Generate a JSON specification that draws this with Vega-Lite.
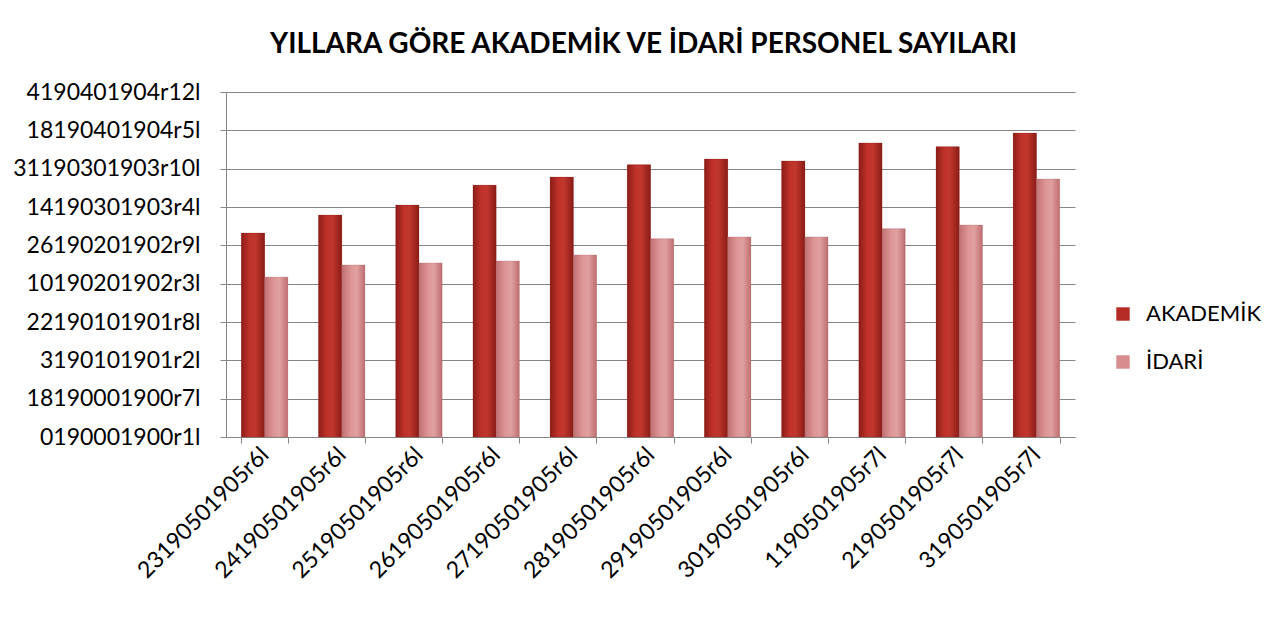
{
  "$schema": "https://vega.github.io/schema/vega-lite/v6.json",
  "autosize": {"type": "none"},
  "width": 849,
  "height": 345,
  "padding": {"left": 226, "top": 92, "right": 209, "bottom": 184},
  "background": "white",
  "title": {
    "text": "YILLARA GÖRE AKADEMİK VE İDARİ PERSONEL SAYILARI",
    "font": "Lato",
    "fontSize": 28,
    "fontWeight": "bold",
    "color": "#000000",
    "anchor": "middle",
    "offset": 22,
    "dx": -7
  },
  "data": {
    "values": [
      {"donem": "23190501905r6l", "seri": "AKADEMİK", "deger": 5.32},
      {"donem": "23190501905r6l", "seri": "İDARİ", "deger": 4.17},
      {"donem": "24190501905r6l", "seri": "AKADEMİK", "deger": 5.79},
      {"donem": "24190501905r6l", "seri": "İDARİ", "deger": 4.49},
      {"donem": "25190501905r6l", "seri": "AKADEMİK", "deger": 6.05},
      {"donem": "25190501905r6l", "seri": "İDARİ", "deger": 4.54},
      {"donem": "26190501905r6l", "seri": "AKADEMİK", "deger": 6.57},
      {"donem": "26190501905r6l", "seri": "İDARİ", "deger": 4.59},
      {"donem": "27190501905r6l", "seri": "AKADEMİK", "deger": 6.78},
      {"donem": "27190501905r6l", "seri": "İDARİ", "deger": 4.75},
      {"donem": "28190501905r6l", "seri": "AKADEMİK", "deger": 7.10},
      {"donem": "28190501905r6l", "seri": "İDARİ", "deger": 5.17},
      {"donem": "29190501905r6l", "seri": "AKADEMİK", "deger": 7.25},
      {"donem": "29190501905r6l", "seri": "İDARİ", "deger": 5.22},
      {"donem": "30190501905r6l", "seri": "AKADEMİK", "deger": 7.20},
      {"donem": "30190501905r6l", "seri": "İDARİ", "deger": 5.22},
      {"donem": "1190501905r7l", "seri": "AKADEMİK", "deger": 7.67},
      {"donem": "1190501905r7l", "seri": "İDARİ", "deger": 5.43},
      {"donem": "2190501905r7l", "seri": "AKADEMİK", "deger": 7.57},
      {"donem": "2190501905r7l", "seri": "İDARİ", "deger": 5.53},
      {"donem": "3190501905r7l", "seri": "AKADEMİK", "deger": 7.93},
      {"donem": "3190501905r7l", "seri": "İDARİ", "deger": 6.73}
    ]
  },
  "encoding": {
    "x": {
      "field": "donem",
      "type": "nominal",
      "sort": null,
      "scale": {"paddingInner": 0.4, "paddingOuter": 0.2},
      "axis": {
        "title": null,
        "labelAngle": -45,
        "labelAlign": "right",
        "labelBaseline": "middle",
        "labelFont": "Lato",
        "labelFontSize": 23,
        "labelColor": "#000000",
        "labelPadding": 8,
        "labelLimit": 400,
        "tickBand": "extent",
        "tickSize": 6,
        "tickColor": "#868686",
        "domainColor": "#868686",
        "grid": false
      }
    },
    "xOffset": {"field": "seri", "type": "nominal", "sort": ["AKADEMİK", "İDARİ"]},
    "y": {
      "field": "deger",
      "type": "quantitative",
      "scale": {"domain": [0, 9], "nice": false, "zero": true},
      "axis": {
        "title": null,
        "values": [0, 1, 2, 3, 4, 5, 6, 7, 8, 9],
        "labelExpr": "['0190001900r1l','18190001900r7l','3190101901r2l','22190101901r8l','10190201902r3l','26190201902r9l','14190301903r4l','31190301903r10l','18190401904r5l','4190401904r12l'][datum.value]",
        "labelFont": "Lato",
        "labelFontSize": 23,
        "labelColor": "#000000",
        "labelPadding": 20,
        "labelLimit": 400,
        "tickSize": 6,
        "tickColor": "#868686",
        "domainColor": "#868686",
        "grid": true,
        "gridColor": "#868686",
        "gridWidth": 1
      }
    }
  },
  "layer": [
    {
      "mark": {"type": "bar"},
      "encoding": {
        "color": {
          "field": "seri",
          "type": "nominal",
          "sort": ["AKADEMİK", "İDARİ"],
          "scale": {"domain": ["AKADEMİK", "İDARİ"], "range": ["#B52B25", "#D98C8E"]},
          "legend": {
            "title": null,
            "orient": "none",
            "legendX": 886,
            "legendY": 211,
            "symbolType": "square",
            "symbolSize": 180,
            "symbolStrokeWidth": 0,
            "labelFont": "Lato",
            "labelFontSize": 22,
            "labelColor": "#000000",
            "labelOffset": 12,
            "labelLimit": 300,
            "rowPadding": 26
          }
        }
      }
    },
    {
      "transform": [{"filter": "datum.seri === 'AKADEMİK'"}],
      "mark": {
        "type": "bar",
        "stroke": "#7a1a16",
        "strokeOpacity": 0.3,
        "strokeWidth": 0.8,
        "fill": {
          "gradient": "linear", "x1": 0, "y1": 0, "x2": 1, "y2": 0,
          "stops": [
            {"offset": 0, "color": "#8C1D18"},
            {"offset": 0.35, "color": "#BE3229"},
            {"offset": 0.6, "color": "#C0372D"},
            {"offset": 1, "color": "#8A1C17"}
          ]
        }
      }
    },
    {
      "transform": [{"filter": "datum.seri === 'İDARİ'"}],
      "mark": {
        "type": "bar",
        "stroke": "#9a5a5c",
        "strokeOpacity": 0.3,
        "strokeWidth": 0.8,
        "fill": {
          "gradient": "linear", "x1": 0, "y1": 0, "x2": 1, "y2": 0,
          "stops": [
            {"offset": 0, "color": "#C07072"},
            {"offset": 0.4, "color": "#DE9696"},
            {"offset": 0.65, "color": "#E0A0A0"},
            {"offset": 1, "color": "#BE6E70"}
          ]
        }
      }
    }
  ],
  "config": {"view": {"stroke": null}}
}
